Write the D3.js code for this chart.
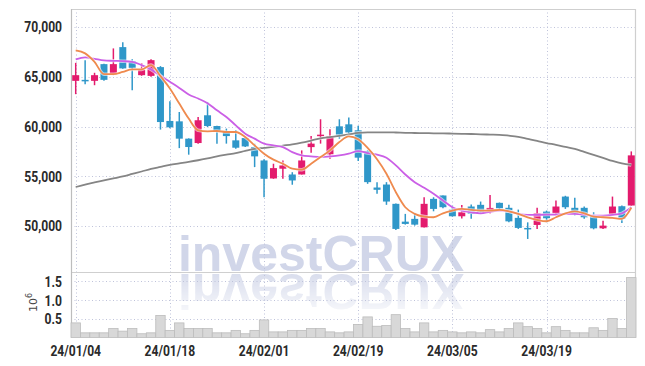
<!DOCTYPE html>
<html>
<head>
<meta charset="utf-8">
<script src="https://cdn.jsdelivr.net/npm/d3@7"></script>
<style>
  body { margin: 0; background: #fff; }
  svg { display: block; }
  .lbl { font-family: Roboto, "Liberation Sans", sans-serif; font-weight: bold; font-size: 15.5px; fill: #2a2a2a; }
</style>
</head>
<body>
<svg id="canvas" width="645" height="366"></svg>
<script>
const dates = ["24/01/04","24/01/05","24/01/08","24/01/09","24/01/10","24/01/11","24/01/12","24/01/15","24/01/16","24/01/17",
  "24/01/18","24/01/19","24/01/22","24/01/23","24/01/24","24/01/25","24/01/26","24/01/29","24/01/30","24/01/31",
  "24/02/01","24/02/02","24/02/05","24/02/06","24/02/07","24/02/08","24/02/13","24/02/14","24/02/15","24/02/16",
  "24/02/19","24/02/20","24/02/21","24/02/22","24/02/23","24/02/26","24/02/27","24/02/28","24/02/29","24/03/04",
  "24/03/05","24/03/06","24/03/07","24/03/08","24/03/11","24/03/12","24/03/13","24/03/14","24/03/15","24/03/18",
  "24/03/19","24/03/20","24/03/21","24/03/22","24/03/25","24/03/26","24/03/27","24/03/28","24/03/29","24/04/01"];

const open = [64590,64690,64590,66270,65260,67980,66570,65160,65090,65970,
  60560,60520,58780,58340,61130,60050,59490,58610,58840,57930,
  56590,54780,55760,55180,55180,57930,59040,57200,60020,60220,
  59620,57530,53870,54170,52230,50440,50720,49870,52730,53070,
  51650,50980,51960,52130,51450,52330,51830,50820,49810,50110,
  51450,51280,52960,51830,51830,50980,49770,51220,51990,52060];
const high = [66400,66670,65400,66300,67850,68460,66770,66370,66770,66070,
  62540,61460,58810,60960,62470,60070,59790,59650,58940,58280,
  56700,56260,56590,55410,57600,59040,60730,59720,60730,60900,
  60070,57600,54410,54410,52260,51220,51320,52890,52890,53070,
  52060,52110,52160,52460,53120,52360,52130,51650,50370,51830,
  51550,52560,53040,52830,51960,51380,50540,52960,52060,57500];
const low = [63250,64250,64150,64600,65160,65800,63650,65100,64990,59690,
  59820,57830,57170,58280,59950,58280,58280,57770,57940,55920,
  52890,54750,54750,54150,55180,57370,58280,56760,58780,59280,
  56540,54240,53240,52130,49610,50140,50040,49840,51480,51790,
  50950,50760,50720,51250,51250,51550,50370,49710,48700,49710,
  50370,51050,51720,51050,50720,49670,49710,51150,50310,52060];
const close = [65160,64590,65160,64690,66270,65840,65900,65700,66670,60450,
  59920,58780,57940,60630,60050,59550,59040,57870,58000,57000,
  54750,55820,56090,54580,56590,58280,59180,59040,59180,59410,
  56870,54410,53640,52460,49710,50210,50140,52230,51720,51890,
  50980,51380,51220,51420,51820,51780,50470,49810,49670,51280,
  50780,51960,51890,51280,50880,49770,50040,51960,50720,57100];

// moving averages
const ma5 = [67650,67350,66500,65260,65260,65490,65740,65740,66170,65060,
  63820,62310,60800,59620,59520,59550,59450,59450,58940,58110,
  57270,56670,56260,55760,55660,56260,56930,57600,58440,59010,
  58710,57850,56710,55250,53400,51890,51220,50950,50880,51280,
  51550,51720,51620,51550,51550,51620,51480,51220,50880,50620,
  50480,50880,51280,51480,51280,50950,50880,50820,50720,51830];
const ma10 = [66740,66950,66800,66640,66600,66570,66500,66170,65740,65090,
  64490,63880,63220,62810,62340,61630,60960,60120,59280,58780,
  58280,58110,57930,57430,57100,57000,56930,57000,57100,57270,
  57530,57330,57170,56870,56090,55180,54410,53840,53240,52560,
  51890,51550,51380,51280,51430,51550,51480,51220,51120,51120,
  51150,51150,51220,51220,51150,51050,51050,51120,51280,51890];
const ma60 = [53920,54170,54380,54580,54780,54980,55230,55480,55740,55940,
  56140,56290,56440,56610,56800,57000,57170,57330,57550,57750,
  57850,57950,58080,58210,58380,58590,58810,58940,59060,59210,
  59370,59420,59420,59420,59400,59370,59350,59340,59320,59310,
  59290,59270,59250,59210,59190,59170,59080,58960,58760,58560,
  58340,58160,57950,57750,57450,57150,56850,56540,56290,56140];

// volume in millions of shares
const volume = [0.39,0.125,0.125,0.125,0.24,0.17,0.24,0.10,0.125,0.59,
  0.19,0.39,0.24,0.24,0.24,0.125,0.125,0.19,0.10,0.19,
  0.47,0.15,0.15,0.19,0.19,0.24,0.24,0.15,0.125,0.15,
  0.35,0.55,0.30,0.32,0.61,0.24,0.15,0.39,0.15,0.19,
  0.15,0.125,0.15,0.125,0.21,0.15,0.24,0.39,0.29,0.24,
  0.125,0.29,0.19,0.125,0.125,0.26,0.19,0.51,0.24,1.6];

const priceTicks = [50000, 55000, 60000, 65000, 70000];
const volTicks = [0.5, 1.0, 1.5];
const dateTicks = ["24/01/04","24/01/18","24/02/01","24/02/19","24/03/05","24/03/19"];

const svg = d3.select("#canvas");
const pLeft = 71, pRight = 636, pTop = 9, pMid = 272, pBottom = 337.5;

const x = d3.scaleBand().domain(dates).range([pLeft, pRight]).padding(0);
const cx = d => x(d) + x.bandwidth() / 2;
const y = d3.scaleLinear().domain([45380, 71810]).range([pMid, pTop]);
const yv = d3.scaleLinear().domain([0, 1.75]).range([pBottom, pMid]);

const upColor = "#e31b6d", downColor = "#2f97c9";

// watermark + mirrored reflection
const defs = svg.append("defs");
const grad = defs.append("linearGradient").attr("id", "fadeGrad")
  .attr("gradientUnits", "userSpaceOnUse").attr("x1", 0).attr("y1", 272).attr("x2", 0).attr("y2", 318);
grad.append("stop").attr("offset", "0%").attr("stop-color", "#fff").attr("stop-opacity", 0.85);
grad.append("stop").attr("offset", "100%").attr("stop-color", "#fff").attr("stop-opacity", 0.1);
defs.append("mask").attr("id", "fade").attr("maskUnits", "userSpaceOnUse")
  .attr("x", 0).attr("y", 0).attr("width", 645).attr("height", 366)
  .append("rect").attr("x", 0).attr("y", 272).attr("width", 645).attr("height", 60).attr("fill", "url(#fadeGrad)");

const wm = svg.append("g");
wm.append("text").attr("id", "wmText").attr("x", 321).attr("y", 271)
  .attr("text-anchor", "middle")
  .style("font-family", "'Liberation Sans', Arial, sans-serif")
  .style("font-weight", "bold").style("font-size", "50px")
  .attr("fill", "#d1d6e9").text("investCRUX");
wm.append("g").attr("mask", "url(#fade)")
  .append("use").attr("href", "#wmText").attr("transform", "translate(0,545) scale(1,-1)");

// grid
const grid = svg.append("g").attr("stroke", "#bfc3da").attr("stroke-dasharray", "1,2.5").attr("stroke-width", 1);
priceTicks.forEach(t => {
  grid.append("line").attr("x1", pLeft).attr("x2", pRight).attr("y1", Math.round(y(t)) + 0.5).attr("y2", Math.round(y(t)) + 0.5);
});
volTicks.forEach(t => {
  grid.append("line").attr("x1", pLeft).attr("x2", pRight).attr("y1", Math.round(yv(t)) + 0.5).attr("y2", Math.round(yv(t)) + 0.5);
});
dateTicks.forEach(d => {
  const xx = Math.round(cx(d)) + 0.5;
  grid.append("line").attr("x1", xx).attr("x2", xx).attr("y1", pTop).attr("y2", pBottom);
});

// frame
const frame = svg.append("g").attr("stroke", "#cfcfcf").attr("stroke-width", 1.2).attr("fill", "none");
frame.append("line").attr("x1", pLeft).attr("x2", pRight).attr("y1", pTop + 0.5).attr("y2", pTop + 0.5);
frame.append("line").attr("x1", pLeft).attr("x2", pRight).attr("y1", pMid + 0.5).attr("y2", pMid + 0.5);
frame.append("line").attr("x1", pRight - 0.5).attr("x2", pRight - 0.5).attr("y1", pTop).attr("y2", pBottom);
frame.append("line").attr("x1", pLeft + 0.5).attr("x2", pLeft + 0.5).attr("y1", pTop).attr("y2", pBottom).attr("stroke", "#bdbdbd");

// volume bars
svg.append("g").selectAll("rect").data(dates).enter().append("rect")
  .attr("x", d => x(d))
  .attr("width", x.bandwidth())
  .attr("y", (d, i) => yv(volume[i]))
  .attr("height", (d, i) => pBottom - yv(volume[i]))
  .attr("fill", "#d8d8d8").attr("stroke", "#bcbcbc").attr("stroke-width", 0.8);

// candles
const candles = svg.append("g").selectAll("g").data(dates).enter().append("g")
  .attr("fill", (d, i) => close[i] >= open[i] ? upColor : downColor)
  .attr("stroke", (d, i) => close[i] >= open[i] ? upColor : downColor);
candles.append("line")
  .attr("x1", d => cx(d)).attr("x2", d => cx(d))
  .attr("y1", (d, i) => y(high[i])).attr("y2", (d, i) => y(low[i]))
  .attr("stroke-width", 1.5);
candles.append("rect")
  .attr("x", d => cx(d) - 3.5).attr("width", 7)
  .attr("y", (d, i) => y(Math.max(open[i], close[i])))
  .attr("height", (d, i) => Math.max(1.5, Math.abs(y(open[i]) - y(close[i]))))
  .attr("stroke", "none");

// moving averages
const line = d3.line().x((d, i) => cx(dates[i])).y(d => y(d)).curve(d3.curveMonotoneX);
[[ma60, "#858585"], [ma10, "#cb5fe6"], [ma5, "#ef8a4e"]].forEach(([s, c]) => {
  svg.append("path").datum(s).attr("fill", "none").attr("stroke", "#fff").attr("stroke-opacity", 0.6)
    .attr("stroke-width", 3.5).attr("d", line);
  svg.append("path").datum(s).attr("fill", "none").attr("stroke", c).attr("stroke-width", 1.8).attr("d", line);
});

// axes
const yAxis = svg.append("g").attr("transform", `translate(${pLeft - 6},0)`)
  .call(d3.axisLeft(y).tickValues(priceTicks).tickSize(0).tickFormat(d3.format(",")));
const vAxis = svg.append("g").attr("transform", `translate(${pLeft - 6},0)`)
  .call(d3.axisLeft(yv).tickValues(volTicks).tickSize(0).tickFormat(d3.format(".1f")));
const xAxis = svg.append("g").attr("transform", `translate(0,${pBottom + 4})`)
  .call(d3.axisBottom(x).tickValues(dateTicks).tickSize(0));
[yAxis, vAxis, xAxis].forEach(a => {
  a.select(".domain").remove();
  a.selectAll("text").attr("class", "lbl").attr("fill", null)
    .each(function () {
      // squeeze into a condensed look
      const w = this.getComputedTextLength();
      d3.select(this).attr("textLength", w * 0.78).attr("lengthAdjust", "spacingAndGlyphs");
    });
});
xAxis.selectAll("text").attr("dy", "0.71em");

// volume unit label
const unit = svg.append("text").attr("transform", "translate(37,312) rotate(-90)")
  .style("font-family", "'DejaVu Sans', sans-serif").style("font-size", "11px").attr("fill", "#444");
unit.append("tspan").text("10");
unit.append("tspan").attr("dy", -5).style("font-size", "8px").text("6");
</script>
</body>
</html>
